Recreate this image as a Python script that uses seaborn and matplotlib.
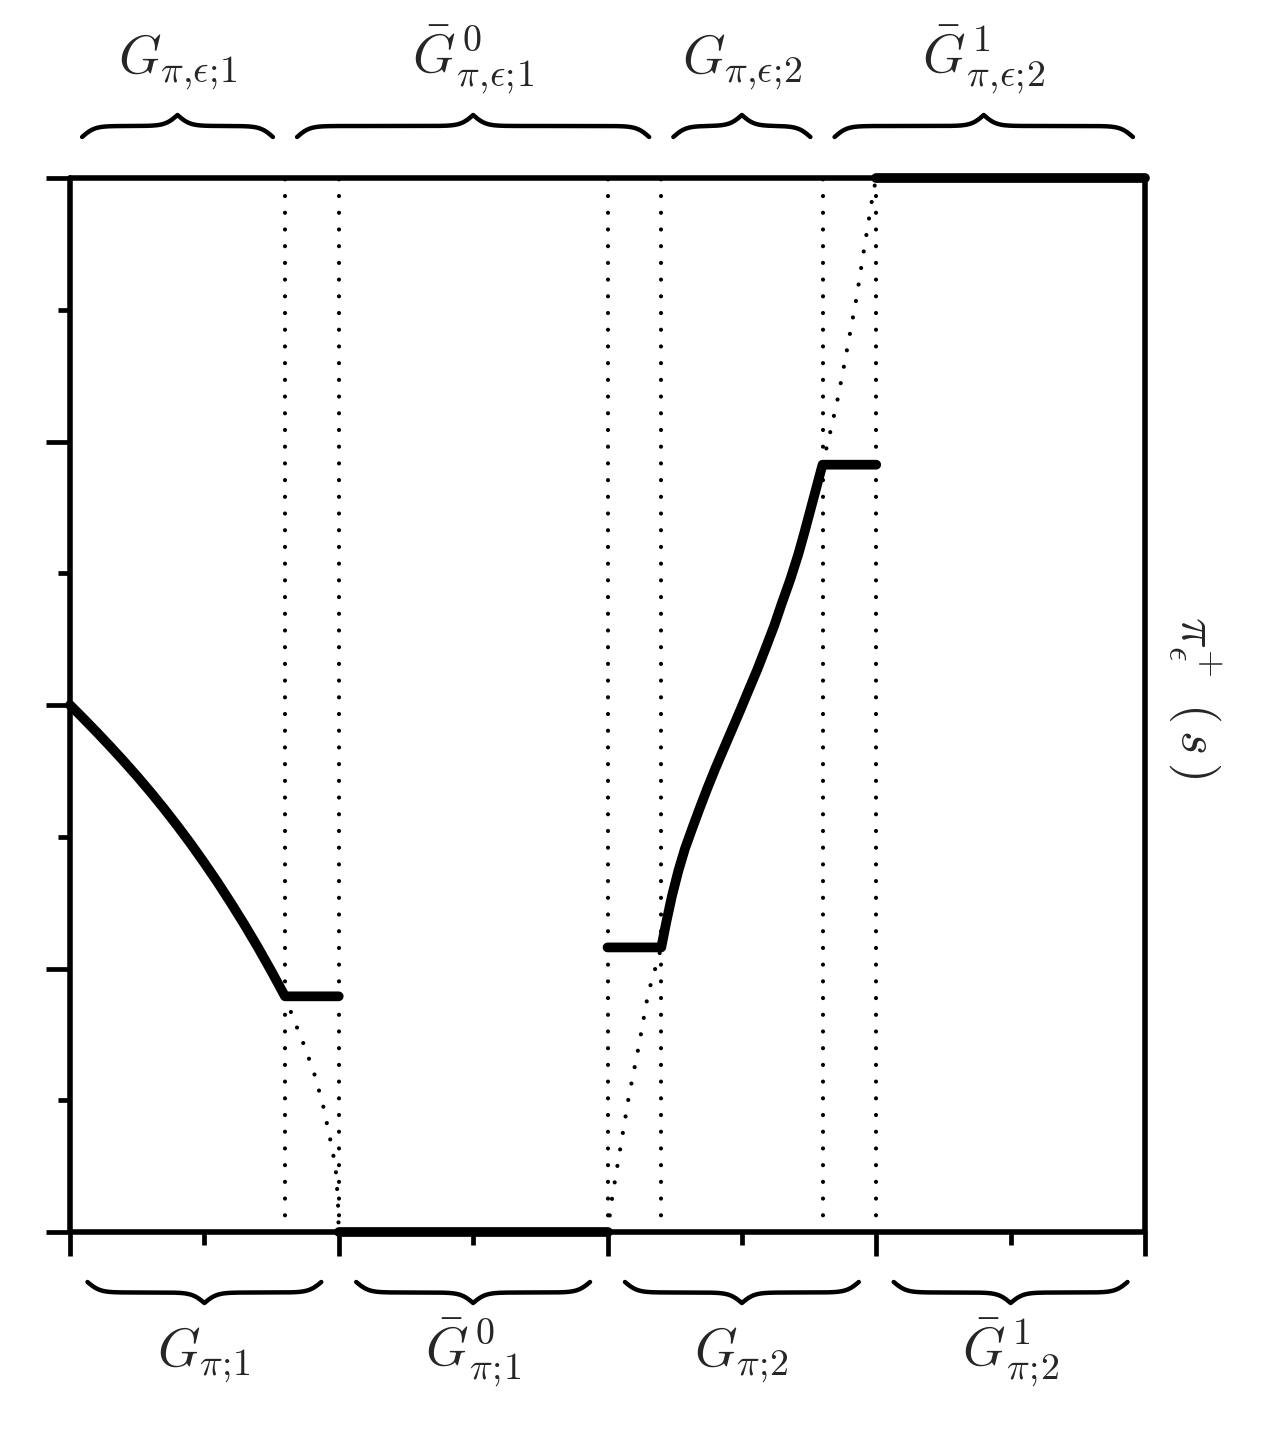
import numpy as np
import pandas as pd
import matplotlib
matplotlib.use("Agg")
import matplotlib.pyplot as plt
import matplotlib.transforms as mtransforms
import seaborn as sns

# ---------------- data ----------------
seg_bounds = [0.0, 1.0, 2.0, 3.0, 4.0]
eps_bounds = [0.0, 0.8, 2.2, 2.8, 4.0]
bottom_labels = [r"$G_{\pi;\!1}$", r"$\bar{G}^{\,0}_{\pi;\!1}$",
                 r"$G_{\pi;\!2}$", r"$\bar{G}^{\,1}_{\pi;\!2}$"]
top_labels = [r"$G_{\pi{,}\epsilon;\!1}$", r"$\bar{G}^{\,0}_{\pi{,}\epsilon;\!1}$",
              r"$G_{\pi{,}\epsilon;\!2}$", r"$\bar{G}^{\,1}_{\pi{,}\epsilon;\!2}$"]
ylabel_right = r"$\pi_{\epsilon}^{+}\ \,(\,s\,)$"
vlines_x = [0.8, 1.0, 2.0, 2.2, 2.8, 3.0]

xticks_major = [0, 1, 2, 3, 4]
xticks_minor = [0.5, 1.5, 2.5, 3.5]
yticks_major = [0, 0.25, 0.5, 0.75, 1.0]
yticks_minor = [0.125, 0.375, 0.625, 0.875]

# solid pieces
piece1_x = [0.0, 0.05, 0.1, 0.15, 0.2, 0.25, 0.3, 0.35, 0.4, 0.45, 0.5,
            0.55, 0.6, 0.65, 0.7, 0.75, 0.8, 1.0]
piece1_y = [0.5, 0.4872, 0.4741, 0.4606, 0.4467, 0.4323, 0.4173, 0.4016,
            0.3852, 0.3681, 0.3501, 0.3314, 0.3117, 0.2912, 0.2697, 0.2471,
            0.2236, 0.2236]
piece2_x = [1.0, 2.0]
piece2_y = [0.0, 0.0]
piece3_x = [2.0, 2.2, 2.22, 2.24, 2.264, 2.288, 2.314, 2.34, 2.37, 2.40, 2.43,
            2.462, 2.494, 2.525, 2.558, 2.59, 2.62, 2.648, 2.68, 2.71, 2.733,
            2.755, 2.778, 2.8, 3.0]
piece3_y = [0.270, 0.270, 0.2955, 0.319, 0.343, 0.3635, 0.382, 0.400, 0.420,
            0.439, 0.457, 0.476, 0.495, 0.514, 0.534, 0.555, 0.575, 0.596,
            0.619, 0.643, 0.664, 0.685, 0.707, 0.728, 0.728]
piece4_x = [3.0, 4.0]
piece4_y = [1.0, 1.0]

# dotted continuations
dot1_x = [0.8, 0.832, 0.873, 0.908, 0.940, 0.965, 0.988, 0.997, 1.0]
dot1_y = [0.2236, 0.202, 0.176, 0.151, 0.122, 0.092, 0.062, 0.030, 0.0]
dot2_x = [2.0, 2.017, 2.048, 2.079, 2.116, 2.151, 2.2]
dot2_y = [0.0, 0.032, 0.080, 0.128, 0.176, 0.226, 0.270]
dot3_x = [2.8, 2.828, 2.857, 2.881, 2.904, 2.927, 2.947, 2.967, 2.988, 3.0]
dot3_y = [0.728, 0.758, 0.791, 0.823, 0.855, 0.887, 0.920, 0.952, 0.985, 1.0]

# ---------------- style ----------------
sns.set_theme(style="ticks")
plt.rcParams["font.family"] = ["DejaVu Sans"]
plt.rcParams["mathtext.fontset"] = "cm"

W, H = 1272, 1431
fig = plt.figure(figsize=(W / 100, H / 100), dpi=100)
fig.patch.set_facecolor("white")
ax = fig.add_axes([70 / W, 1 - 1232 / H, (1145 - 70) / W, (1232 - 178) / H])
ax.set_facecolor("white")

solid = pd.concat([
    pd.DataFrame({"x": piece1_x, "y": piece1_y, "piece": "p1"}),
    pd.DataFrame({"x": piece2_x, "y": piece2_y, "piece": "p2"}),
    pd.DataFrame({"x": piece3_x, "y": piece3_y, "piece": "p3"}),
    pd.DataFrame({"x": piece4_x, "y": piece4_y, "piece": "p4"}),
])
dotted = pd.concat([
    pd.DataFrame({"x": dot1_x, "y": dot1_y, "piece": "d1"}),
    pd.DataFrame({"x": dot2_x, "y": dot2_y, "piece": "d2"}),
    pd.DataFrame({"x": dot3_x, "y": dot3_y, "piece": "d3"}),
])

dot_style = (0, (0.01, 4.0))
lw_dot = 3.0

# vertical dotted guides
for xv in vlines_x:
    ax.axvline(xv, color="black", lw=lw_dot, ls=dot_style,
               dash_capstyle="round", zorder=1)

for name, grp in dotted.groupby("piece"):
    sns.lineplot(data=grp, x="x", y="y", ax=ax, sort=False, estimator=None,
                 color="black", lw=lw_dot, ls=dot_style,
                 dash_capstyle="round", zorder=1)

for name, grp in solid.groupby("piece"):
    sns.lineplot(data=grp, x="x", y="y", ax=ax, sort=False, estimator=None,
                 color="black", lw=7.0, solid_capstyle="round",
                 solid_joinstyle="round", clip_on=False, zorder=4)

ax.set_xlim(seg_bounds[0], seg_bounds[-1])
ax.set_ylim(0, 1)
ax.set_xlabel("")
ax.set_ylabel("")

ax.set_xticks(xticks_major)
ax.set_xticks(xticks_minor, minor=True)
ax.set_yticks(yticks_major)
ax.set_yticks(yticks_minor, minor=True)
ax.set_xticklabels([])
ax.set_yticklabels([])
ax.tick_params(which="major", direction="out", length=17.5, width=3.4,
               color="black")
ax.tick_params(which="minor", direction="out", length=9, width=3.4,
               color="black")
for sp in ax.spines.values():
    sp.set_visible(True)
    sp.set_linewidth(4.0)
    sp.set_color("black")
    sp.set_capstyle("round")

# ---------------- braces ----------------
trans = mtransforms.blended_transform_factory(ax.transData, fig.transFigure)
px_per_unit = (1145 - 70) / (seg_bounds[-1] - seg_bounds[0])


def brace(x0, x1, y_end_px, amp_px, beta_px=0.16):
    beta = beta_px * px_per_unit
    n = 401
    xs = np.linspace(x0, x1, n)
    half = xs[: n // 2 + 1]
    yh = (1 / (1 + np.exp(-beta * (half - half[0])))
          + 1 / (1 + np.exp(-beta * (half - half[-1]))))
    yv = np.concatenate((yh, yh[-2::-1]))
    ypx = y_end_px + (yv - 0.5) * amp_px
    ax.plot(xs, 1 - ypx / H, color="black", lw=3.2, transform=trans,
            clip_on=False, solid_capstyle="round")


inset_top = 0.045
for i in range(4):
    a, b = eps_bounds[i], eps_bounds[i + 1]
    brace(a + inset_top, b - inset_top, 137, -22)
    fig.text((a + b) / 2, 1 - 73 / H, top_labels[i], transform=trans,
             ha="center", va="baseline", fontsize=39)

inset_bot = 0.065
for i in range(4):
    a, b = seg_bounds[i], seg_bounds[i + 1]
    brace(a + inset_bot, b - inset_bot, 1282, 21)
    fig.text((a + b) / 2, 1 - 1366 / H, bottom_labels[i], transform=trans,
             ha="center", va="baseline", fontsize=39)

fig.text(1195 / W, 1 - 697 / H, ylabel_right, rotation=270,
         ha="center", va="center", fontsize=37)

fig.savefig("out.png", dpi=100, facecolor="white")
